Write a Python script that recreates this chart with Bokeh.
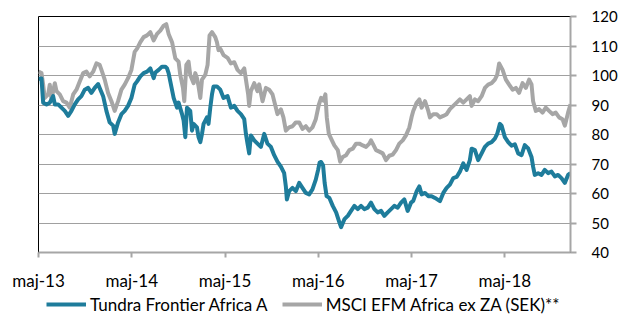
from bokeh.plotting import figure
from bokeh.layouts import column
from bokeh.models import Legend, LegendItem, FixedTicker, Range1d
from bokeh.embed import file_html
from bokeh.resources import INLINE

# ---- data (dates as decimal years) ----
tundra_dates = [
    2013.333, 2013.365, 2013.383, 2013.419, 2013.454, 2013.490, 2013.508, 2013.544, 2013.579, 2013.615,
    2013.651, 2013.686, 2013.722, 2013.758, 2013.793, 2013.829, 2013.865, 2013.900, 2013.936, 2013.972,
    2013.989, 2014.026, 2014.061, 2014.096, 2014.133, 2014.150, 2014.186, 2014.222, 2014.257, 2014.293,
    2014.329, 2014.364, 2014.390, 2014.425, 2014.460, 2014.497, 2014.532, 2014.568, 2014.586, 2014.621,
    2014.657, 2014.693, 2014.711, 2014.728, 2014.746, 2014.782, 2014.818, 2014.835, 2014.872, 2014.889,
    2014.907, 2014.925, 2014.960, 2014.979, 2014.996, 2015.032, 2015.049, 2015.068, 2015.086, 2015.103,
    2015.139, 2015.156, 2015.175, 2015.193, 2015.210, 2015.246, 2015.282, 2015.317, 2015.360, 2015.396,
    2015.432, 2015.467, 2015.503, 2015.539, 2015.557, 2015.574, 2015.592, 2015.610, 2015.646, 2015.681,
    2015.717, 2015.753, 2015.788, 2015.825, 2015.860, 2015.895, 2015.932, 2015.967, 2015.985, 2015.996,
    2016.020, 2016.056, 2016.092, 2016.128, 2016.163, 2016.199, 2016.235, 2016.270, 2016.306, 2016.331,
    2016.347, 2016.363, 2016.384, 2016.401, 2016.422, 2016.452, 2016.488, 2016.524, 2016.559, 2016.577,
    2016.613, 2016.649, 2016.684, 2016.720, 2016.756, 2016.791, 2016.827, 2016.863, 2016.898, 2016.934,
    2016.970, 2017.006, 2017.041, 2017.077, 2017.113, 2017.148, 2017.184, 2017.220, 2017.255, 2017.291,
    2017.327, 2017.351, 2017.388, 2017.416, 2017.441, 2017.477, 2017.512, 2017.548, 2017.584, 2017.637,
    2017.673, 2017.709, 2017.744, 2017.780, 2017.816, 2017.851, 2017.887, 2017.923, 2017.958, 2017.977,
    2018.012, 2018.047, 2018.084, 2018.119, 2018.154, 2018.191, 2018.226, 2018.251, 2018.280, 2018.298,
    2018.333, 2018.369, 2018.405, 2018.440, 2018.476, 2018.512, 2018.547, 2018.583, 2018.619, 2018.636,
    2018.654, 2018.690, 2018.726, 2018.761, 2018.797, 2018.833, 2018.869, 2018.904, 2018.940, 2018.976,
    2019.011, 2019.037,
]
tundra_values = [
    98.9, 99.0, 90.8, 90.2, 90.8, 93.0, 90.2, 90.2, 89.1, 88.0,
    86.3, 88.0, 90.2, 91.9, 93.0, 95.2, 95.8, 94.1, 95.8, 97.1,
    95.8, 93.0, 88.0, 84.1, 83.0, 80.2, 84.1, 86.9, 88.0, 89.7,
    92.4, 96.9, 98.0, 99.7, 100.8, 101.3, 102.4, 99.1, 101.0, 101.9,
    103.0, 103.0, 102.4, 100.8, 98.0, 92.4, 89.1, 90.8, 86.9, 84.7,
    79.1, 89.1, 88.0, 81.3, 83.6, 82.4, 79.1, 77.4, 80.2, 83.6,
    85.8, 83.6, 89.1, 93.6, 96.3, 96.3, 95.2, 92.4, 93.0, 89.1,
    89.7, 88.0, 86.9, 85.2, 80.2, 76.9, 73.6, 79.7, 78.0, 76.9,
    75.8, 80.2, 76.9, 75.8, 73.0, 70.8, 69.1, 66.9, 62.4, 58.0,
    60.8, 61.9, 60.8, 63.6, 61.9, 60.2, 59.7, 61.4, 64.7, 68.0,
    70.5, 70.7, 69.6, 63.6, 59.1, 58.5, 55.8, 53.6, 50.2, 48.6,
    51.3, 52.4, 54.1, 55.8, 54.7, 55.8, 54.7, 55.2, 56.9, 54.7,
    53.6, 54.1, 52.4, 53.6, 54.7, 55.8, 55.2, 56.9, 58.0, 54.1,
    56.9, 57.5, 60.8, 62.4, 59.7, 60.2, 59.1, 59.1, 58.5, 57.4,
    60.2, 61.9, 63.0, 65.2, 65.6, 67.4, 70.2, 68.0, 71.3, 75.2,
    74.7, 71.3, 73.6, 75.8, 76.9, 77.4, 78.6, 80.2, 83.6, 83.0,
    79.1, 77.4, 76.2, 76.7, 73.6, 73.0, 76.4, 75.3, 72.4, 69.1,
    66.3, 66.9, 66.3, 68.0, 66.9, 67.4, 65.8, 66.3, 65.2, 63.6,
    66.3, 66.9,
]

msci_dates = [
    2013.333, 2013.365, 2013.383, 2013.400, 2013.437, 2013.454, 2013.472, 2013.508, 2013.526, 2013.561,
    2013.597, 2013.633, 2013.668, 2013.705, 2013.740, 2013.775, 2013.812, 2013.847, 2013.882, 2013.919,
    2013.954, 2013.989, 2014.008, 2014.043, 2014.079, 2014.115, 2014.150, 2014.186, 2014.222, 2014.257,
    2014.293, 2014.329, 2014.364, 2014.390, 2014.425, 2014.460, 2014.497, 2014.532, 2014.568, 2014.604,
    2014.639, 2014.675, 2014.703, 2014.728, 2014.765, 2014.800, 2014.835, 2014.853, 2014.882, 2014.896,
    2014.918, 2014.942, 2014.960, 2014.996, 2015.014, 2015.032, 2015.049, 2015.068, 2015.086, 2015.121,
    2015.146, 2015.167, 2015.193, 2015.228, 2015.246, 2015.263, 2015.282, 2015.317, 2015.360, 2015.396,
    2015.432, 2015.467, 2015.503, 2015.539, 2015.557, 2015.581, 2015.592, 2015.610, 2015.646, 2015.681,
    2015.699, 2015.735, 2015.771, 2015.806, 2015.842, 2015.878, 2015.895, 2015.932, 2015.959, 2015.985,
    2016.020, 2016.056, 2016.092, 2016.128, 2016.163, 2016.199, 2016.235, 2016.270, 2016.306, 2016.338,
    2016.363, 2016.388, 2016.409, 2016.424, 2016.446, 2016.470, 2016.505, 2016.542, 2016.567, 2016.595,
    2016.631, 2016.666, 2016.703, 2016.738, 2016.773, 2016.810, 2016.845, 2016.880, 2016.898, 2016.917,
    2016.952, 2016.987, 2017.024, 2017.059, 2017.094, 2017.131, 2017.166, 2017.201, 2017.238, 2017.273,
    2017.309, 2017.334, 2017.351, 2017.388, 2017.416, 2017.441, 2017.477, 2017.512, 2017.530, 2017.566,
    2017.602, 2017.637, 2017.673, 2017.709, 2017.744, 2017.780, 2017.816, 2017.851, 2017.887, 2017.923,
    2017.958, 2017.977, 2018.012, 2018.047, 2018.084, 2018.119, 2018.154, 2018.191, 2018.226, 2018.251,
    2018.272, 2018.309, 2018.344, 2018.379, 2018.416, 2018.451, 2018.486, 2018.523, 2018.558, 2018.593,
    2018.619, 2018.636, 2018.665, 2018.700, 2018.737, 2018.772, 2018.807, 2018.844, 2018.879, 2018.915,
    2018.951, 2018.976, 2019.011, 2019.037,
]
msci_values = [
    101.3, 100.8, 96.9, 92.4, 93.6, 96.9, 91.9, 97.4, 94.7, 93.6,
    91.3, 90.8, 89.1, 93.6, 95.2, 98.0, 100.8, 101.3, 99.7, 101.3,
    104.1, 103.6, 101.9, 98.6, 94.1, 91.3, 88.0, 91.3, 95.2, 96.9,
    99.1, 101.9, 108.0, 109.1, 111.3, 113.0, 113.6, 114.7, 111.9, 114.1,
    115.2, 116.9, 117.4, 114.1, 111.3, 105.8, 104.7, 100.2, 95.8, 91.3,
    103.6, 104.7, 100.2, 97.4, 100.8, 99.1, 96.3, 92.4, 98.6, 100.2,
    103.6, 113.6, 114.7, 113.0, 111.3, 108.6, 109.1, 106.9, 106.0, 104.1,
    104.5, 101.9, 100.8, 102.4, 98.6, 93.6, 89.7, 94.7, 97.4, 94.7,
    97.0, 91.3, 95.8, 95.2, 93.6, 89.1, 86.9, 88.5, 85.8, 81.3,
    82.4, 82.8, 84.1, 84.1, 81.9, 82.8, 81.3, 82.4, 85.2, 90.0,
    92.4, 91.5, 93.6, 85.8, 80.2, 78.6, 76.3, 74.7, 70.8, 72.4,
    73.0, 74.7, 75.2, 76.9, 76.9, 76.3, 75.8, 76.9, 78.0, 76.9,
    74.7, 74.2, 73.6, 71.3, 72.8, 73.2, 74.7, 76.9, 78.0, 79.7,
    82.4, 86.0, 88.0, 90.8, 91.9, 89.1, 91.3, 88.0, 85.8, 86.9,
    86.9, 85.8, 86.3, 86.9, 88.6, 89.7, 90.8, 91.9, 90.8, 91.9,
    93.0, 89.7, 91.9, 91.3, 93.0, 95.8, 96.9, 97.4, 98.6, 100.2,
    104.1, 101.9, 98.6, 96.9, 95.2, 95.8, 94.1, 97.4, 95.8, 98.6,
    97.0, 91.3, 88.0, 88.6, 87.4, 89.1, 88.0, 86.9, 87.4, 85.8,
    85.2, 83.0, 87.4, 90.2,
]

x_tick_positions = [2013.333, 2014.333, 2015.333, 2016.333, 2017.333, 2018.333]
x_tick_labels = ["maj-13", "maj-14", "maj-15", "maj-16", "maj-17", "maj-18"]
y_ticks = [40, 50, 60, 70, 80, 90, 100, 110, 120]

series_names = ["Tundra Frontier Africa A", "MSCI EFM Africa ex ZA (SEK)**"]
TEAL = "#1E7C9B"
GRAY = "#A6A6A6"
FONT = "Lato"

p = figure(width=620, height=293, output_backend="svg", toolbar_location=None,
           y_axis_location="right",
           x_range=Range1d(tundra_dates[0], tundra_dates[-1]),
           y_range=Range1d(40, 120),
           min_border_left=38, min_border_right=50, min_border_top=16, min_border_bottom=37)

r_msci = p.line(msci_dates, msci_values, line_color=GRAY, line_width=4, line_join="round")
r_tundra = p.line(tundra_dates, tundra_values, line_color=TEAL, line_width=4, line_join="round")

p.outline_line_color = "black"
p.outline_line_width = 1
p.background_fill_color = "white"
p.border_fill_color = "white"

p.xgrid.visible = False
p.ygrid.ticker = FixedTicker(ticks=y_ticks)
p.ygrid.grid_line_color = "#A0A0A0"
p.ygrid.grid_line_width = 1

xa = p.xaxis[0]
xa.ticker = FixedTicker(ticks=x_tick_positions)
xa.major_label_overrides = {t: l for t, l in zip(x_tick_positions, x_tick_labels)}
xa.axis_line_color = GRAY
xa.axis_line_width = 2
xa.major_tick_line_color = GRAY
xa.major_tick_line_width = 2
xa.major_tick_out = 5
xa.major_tick_in = 0
xa.minor_tick_line_color = None
xa.major_label_standoff = 12
xa.major_label_text_font = FONT
xa.major_label_text_font_size = "17px"
xa.major_label_text_color = "#000000"

ya = p.yaxis[0]
ya.ticker = FixedTicker(ticks=y_ticks)
ya.axis_line_color = GRAY
ya.axis_line_width = 2
ya.major_tick_line_color = GRAY
ya.major_tick_line_width = 2
ya.major_tick_out = 6
ya.major_tick_in = 0
ya.minor_tick_line_color = None
ya.major_label_standoff = 15
ya.major_label_text_font = FONT
ya.major_label_text_font_size = "15px"
ya.major_label_text_color = "#000000"

# legend strip: a separate borderless figure under the chart
lg = figure(width=620, height=22, output_backend="svg", toolbar_location=None,
            x_axis_type=None, y_axis_type=None,
            x_range=Range1d(0, 1), y_range=Range1d(0, 1),
            min_border_left=0, min_border_right=0, min_border_top=0, min_border_bottom=0)
lg.outline_line_color = None
lg.xgrid.visible = False
lg.ygrid.visible = False
# proxy renderers (outside the visible range) only used for the legend swatches
l_tundra = lg.line([5, 6], [5, 6], line_color=TEAL, line_width=4)
l_msci = lg.line([5, 6], [5, 6], line_color=GRAY, line_width=4)

legend = Legend(items=[LegendItem(label=series_names[0], renderers=[l_tundra]),
                       LegendItem(label=series_names[1], renderers=[l_msci])],
                orientation="horizontal", location=(8, 0),
                glyph_width=40, glyph_height=22, label_standoff=4, spacing=14,
                padding=0, margin=0, border_line_alpha=0, background_fill_alpha=0,
                label_text_font=FONT, label_text_font_size="17px", label_text_color="#000000",
                label_height=22)
lg.add_layout(legend, "center")

layout = column(p, lg, spacing=0)
open("out.html", "w").write(file_html(layout, INLINE))
